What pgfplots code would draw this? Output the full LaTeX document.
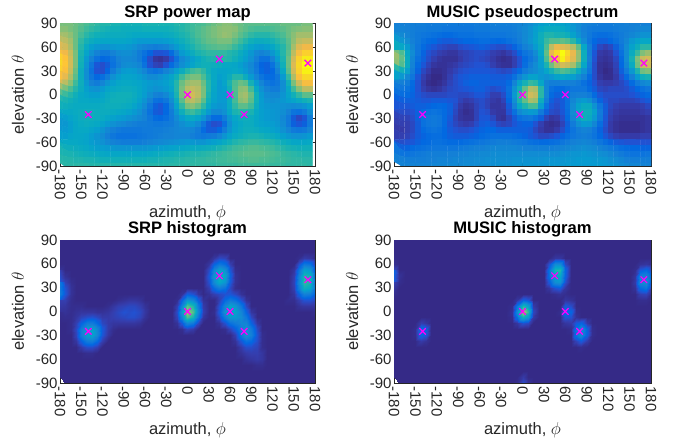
\documentclass[border=0pt]{standalone}
\usepackage{fontspec}
\setmainfont{Liberation Sans}
\usepackage{pgfplots}
\usepackage{pgfplotstable}
\pgfplotsset{compat=1.18}
\definecolor{ink}{rgb}{0.15,0.15,0.15}
\definecolor{mag}{rgb}{1,0,1}
\pgfplotsset{
 colormap={parula}{rgb=(.2081,.1663,.5292) rgb=(.2081,.2386,.6771) rgb=(.1253,.3242,.8303) rgb=(.0060,.4086,.8828) rgb=(.0498,.4586,.8641) rgb=(.0779,.5040,.8384) rgb=(.0641,.5570,.8240) rgb=(.0265,.6137,.8135) rgb=(.0228,.6535,.7768) rgb=(.0590,.6838,.7254) rgb=(.1453,.7098,.6646) rgb=(.2586,.7317,.5954) rgb=(.3953,.7459,.5244) rgb=(.5300,.7491,.4661) rgb=(.6473,.7456,.4188) rgb=(.7525,.7384,.3768) rgb=(.8507,.7299,.3360) rgb=(.9450,.7261,.2886) rgb=(.9990,.7653,.2164) rgb=(.9789,.8271,.1633) rgb=(.9589,.8949,.1132) rgb=(.9763,.9831,.0538)},
 panel/.style={
  scale only axis, width=#1, anchor=south west,
  xmin=-180, xmax=180, ymin=-90, ymax=90,
  xtick={-180,-150,...,180}, ytick={-90,-60,...,90},
  xticklabels={-180,-150,-120,-90,-60,-30,0,30,60,90,120,150,180},
  yticklabels={-90,-60,-30,0,30,60,90},
  tick align=inside, tick pos=both, major tick length=2.5pt,
  axis line style={ink,line width=0.5pt}, every tick/.style={ink,line width=0.5pt},
  tick label style={font=\fontsize{15}{15}\selectfont,text=ink},
  xticklabel style={rotate=-90,anchor=west,yshift=0pt},
  yticklabel style={xshift=1pt},
  label style={font=\fontsize{16.5}{16.5}\selectfont,text=ink},
  xlabel={azimuth, $\phi$}, ylabel={elevation $\theta$},
  xlabel style={at={(axis description cs:0.5,0)},anchor=base,yshift=-51.5pt},
  ylabel style={at={(axis description cs:0,0.5)},anchor=base,yshift=36pt},
  title style={font=\bfseries\fontsize{16.6}{16.6}\selectfont,text=black,yshift=-6.5pt},
  point meta min=5, point meta max=100,
  colormap name=parula,
 },
 xmarks/.style={only marks,mark=x,mark size=4.6pt,color=mag,mark options={line width=1.2pt}},
}
\newcommand\truth{\addplot[xmarks] coordinates {(-140,-25) (0,0) (45,45) (60,0) (80,-25) (170,40)};}
\pgfplotstableread{
c
62
62
62
60
58
56
54
52
50
50
48
48
47
47
47
47
48
48
48
48
48
48
50
50
52
54
55
56
58
60
62
64
64
62
60
58
58
58
58
58
58
58
60
60
60
60
62
62

64
64
62
60
57
54
52
50
48
47
46
46
45
45
45
45
46
46
46
46
46
47
48
50
52
54
56
58
60
62
64
65
65
64
60
58
56
55
55
55
56
57
58
60
62
63
64
64

68
68
65
60
55
51
48
46
45
44
44
44
44
43
42
42
42
42
42
42
43
44
46
48
50
53
56
58
60
62
64
66
65
62
58
55
52
50
50
50
52
54
56
60
64
68
68
68

72
72
68
60
52
47
44
42
41
41
41
41
41
40
38
36
36
36
36
36
37
39
42
45
48
51
54
57
59
60
62
62
62
58
54
50
46
44
44
45
47
50
53
58
65
72
74
74

78
76
70
60
50
43
38
35
33
33
35
36
36
35
33
30
28
27
26
27
28
32
36
41
45
48
52
54
56
57
58
58
57
53
49
44
40
37
36
38
41
46
50
57
68
78
82
82

84
82
74
62
48
40
33
28
25
25
28
31
32
32
30
26
22
18
14
14
15
20
28
36
40
44
48
50
52
52
52
52
50
48
44
40
35
30
28
30
35
42
50
58
72
84
90
90

90
86
76
62
47
36
28
22
19
20
23
28
30
30
29
26
20
13
8
7
9
14
22
30
34
38
42
46
48
49
50
50
49
46
42
38
33
27
22
22
28
37
48
60
76
90
97
97

92
87
76
62
46
34
24
15
13
16
22
27
31
32
31
29
22
14
11
10
14
20
26
32
36
40
44
46
46
45
44
42
42
41
38
34
30
24
18
17
22
32
46
60
78
92
100
100

90
85
74
60
44
32
22
14
13
18
26
32
36
37
36
33
29
24
22
24
28
32
38
44
50
54
56
52
46
42
40
40
41
42
40
36
31
25
19
17
19
28
42
58
76
90
98
98

85
80
70
58
44
32
24
19
21
26
33
37
40
40
39
37
34
31
31
33
36
40
46
54
60
62
62
56
48
42
38
40
44
50
50
44
36
29
23
20
20
24
36
52
70
85
92
92

78
72
64
54
45
35
28
26
29
34
38
41
42
42
41
40
38
36
35
36
38
42
50
60
66
68
68
60
50
42
36
40
48
56
60
58
47
36
29
24
22
24
32
46
62
75
84
84

68
62
56
50
44
38
34
33
36
40
42
43
44
44
43
41
38
35
33
34
36
40
50
62
71
73
71
62
50
41
36
38
46
57
64
65
55
42
33
28
26
26
32
42
54
64
72
72

58
54
50
46
42
40
38
38
40
43
45
46
46
46
44
41
37
32
28
27
30
36
48
62
73
76
72
62
48
40
36
36
44
56
66
68
60
46
36
31
30
30
34
40
46
52
58
58

50
48
46
44
42
42
41
41
42
44
46
46
46
45
43
39
34
28
22
21
24
32
44
58
70
72
68
58
46
39
36
36
44
55
64
66
58
46
37
33
32
33
35
38
40
43
46
48

46
45
44
43
43
43
43
43
44
45
45
45
44
43
40
36
31
24
17
15
19
28
40
52
62
64
60
52
42
36
34
35
43
52
58
58
54
44
37
35
34
34
33
32
31
32
34
38

42
42
42
43
44
45
45
44
44
44
43
42
41
39
36
33
28
22
16
15
19
26
35
45
52
54
50
44
36
30
30
33
41
48
50
50
48
42
38
36
35
34
32
28
23
22
25
32

38
38
40
42
44
45
45
44
43
41
39
37
36
34
32
30
28
24
20
19
21
25
31
37
42
43
40
34
26
20
20
26
35
41
44
45
44
41
38
36
35
34
30
25
16
12
15
26

35
35
38
41
43
44
43
42
39
36
33
31
30
28
27
26
26
25
24
24
25
26
29
32
35
35
31
24
16
13
14
21
32
39
42
44
44
41
39
38
37
35
31
25
17
15
17
25

35
36
38
41
42
42
40
38
34
30
27
25
24
24
24
24
25
25
26
26
27
28
29
30
30
29
26
20
16
16
19
26
34
40
43
45
45
44
42
41
39
37
33
29
25
24
25
29

38
38
40
41
41
40
37
34
31
27
24
22
22
22
22
23
24
25
26
27
28
28
29
29
29
27
25
24
25
26
29
34
39
43
45
47
48
48
47
45
44
42
38
35
33
33
34
36

41
42
42
42
41
40
37
35
33
30
28
27
26
26
26
26
27
28
29
30
31
32
33
34
35
35
34
34
36
38
40
43
46
49
51
52
53
53
52
51
50
48
45
43
41
41
41
42

45
45
45
44
43
42
40
38
37
36
35
34
34
34
34
34
34
35
36
37
38
39
40
41
42
43
43
44
45
46
48
50
52
54
55
56
57
57
56
55
54
52
50
48
47
46
46
46

48
48
48
47
46
45
44
43
42
41
41
41
41
41
41
41
41
42
43
44
45
46
47
47
48
49
49
50
51
52
53
54
55
56
57
58
58
58
58
57
56
55
53
52
51
50
49
49

50
50
50
49
49
48
48
47
46
46
46
46
46
46
46
46
46
47
47
48
49
49
50
50
51
51
52
52
53
53
54
54
55
55
56
56
57
57
56
56
55
54
54
53
52
52
51
51

51
51
51
51
51
51
50
50
50
50
50
50
50
50
50
50
50
50
50
50
50
51
51
51
51
52
52
52
52
52
53
53
53
53
54
54
54
54
54
54
53
53
53
52
52
52
52
51
}\srpmap
\pgfplotstableread{
c
26
26
26
25
25
25
24
24
24
24
23
23
23
23
23
24
24
24
25
25
25
25
26
27
28
30
33
36
38
38
38
38
36
33
30
27
26
25
24
24
24
25
25
26
26
26
26
26

27
27
26
25
24
24
23
23
23
22
22
22
22
22
22
23
23
23
24
24
24
24
25
27
29
32
36
40
42
42
42
41
38
34
30
26
24
23
23
23
23
24
25
25
26
27
28
28

30
29
27
25
23
22
21
20
19
18
18
19
20
20
20
21
21
21
22
22
22
23
24
26
29
32
37
44
48
48
46
46
44
38
32
27
23
20
19
19
20
22
24
26
28
30
32
32

34
33
30
26
23
20
18
17
15
14
14
15
16
17
17
18
19
19
18
17
18
20
22
25
29
33
38
44
52
56
56
58
56
50
40
30
22
17
15
15
17
20
24
28
34
38
40
40

42
40
35
28
22
18
15
13
11
10
9
9
11
12
13
14
15
14
12
11
11
13
16
21
26
29
35
42
55
72
80
78
76
70
58
40
25
15
10
8
10
15
22
30
38
44
50
50

60
55
40
30
22
16
12
10
8
7
6
6
8
9
10
11
11
10
8
7
6
8
11
16
21
24
30
40
58
80
92
100
92
80
65
44
25
13
7
6
7
12
20
30
42
52
62
66

66
58
42
28
20
15
11
8
6
5
5
5
7
9
10
11
10
9
7
5
4
5
8
12
18
22
27
37
55
72
84
98
88
78
65
44
26
12
6
5
6
10
18
30
46
62
74
76

64
56
42
27
18
13
9
6
5
5
6
7
9
10
11
12
12
11
8
6
5
5
8
12
19
25
30
36
47
60
70
76
74
68
56
40
24
11
5
4
5
9
17
28
42
60
73
75

50
45
36
25
16
10
7
4
4
5
7
9
11
12
13
13
13
13
12
11
10
11
14
18
24
28
30
34
39
46
52
56
54
50
42
32
22
11
5
3
4
8
15
24
34
48
60
62

38
34
28
22
13
8
5
3
3
5
8
11
13
14
15
15
15
15
14
14
14
15
20
27
33
38
38
34
32
34
38
40
38
36
31
26
18
11
6
4
4
7
12
18
26
35
44
46

28
26
23
18
12
7
4
3
4
6
9
11
13
15
16
16
15
15
15
15
15
18
27
38
46
52
50
40
28
25
25
26
26
26
24
20
16
12
8
7
7
8
10
13
18
24
28
30

24
22
20
17
12
8
6
5
6
8
10
11
12
13
14
15
15
13
11
12
14
20
32
45
58
70
68
50
28
20
18
18
20
22
22
22
18
14
10
9
10
10
10
11
14
17
20
22

20
19
18
16
13
11
10
10
10
10
11
11
10
10
11
13
13
11
8
8
11
19
34
50
62
75
72
50
28
18
15
16
20
25
26
26
24
18
13
11
11
11
11
11
12
14
16
18

16
15
15
15
14
13
13
14
14
14
13
12
9
7
8
10
11
9
7
6
9
17
31
48
58
68
66
44
25
15
12
14
20
28
33
35
32
24
16
12
10
10
9
9
9
10
12
14

13
13
13
14
15
15
16
17
18
17
15
11
7
5
6
9
11
9
6
6
7
14
27
40
48
54
54
36
20
13
11
14
20
30
38
42
42
32
22
14
10
8
7
7
7
7
8
10

11
11
11
12
15
18
20
21
20
18
15
10
6
4
5
9
12
11
7
6
6
12
20
29
33
35
34
24
15
11
10
13
19
30
40
44
44
37
24
14
9
7
6
6
6
6
7
8

9
9
9
11
15
20
22
23
22
18
14
9
6
5
5
9
13
13
10
6
5
9
14
20
22
23
20
15
9
6
7
11
18
28
38
44
42
34
23
13
8
6
5
5
5
5
5
6

8
8
8
10
14
20
22
23
22
18
13
10
8
7
8
11
14
15
13
10
9
10
13
15
16
16
12
8
5
4
5
9
15
24
31
35
34
28
19
12
7
5
4
4
4
4
5
6

7
7
8
10
14
18
20
21
20
17
14
12
11
11
12
14
16
17
17
15
15
15
15
15
15
14
10
7
5
5
7
11
16
21
25
27
26
22
16
11
7
5
4
4
4
4
5
6

8
8
9
11
14
16
18
19
19
17
15
14
14
14
15
16
18
19
20
20
20
20
19
18
16
14
12
10
10
11
13
16
19
22
24
25
24
21
17
13
10
8
7
7
7
7
8
8

11
11
12
13
15
17
18
20
20
19
18
18
18
19
20
21
22
23
24
25
25
25
24
23
22
20
19
18
18
19
20
22
24
26
27
28
27
25
22
19
16
14
13
12
12
12
12
12

15
15
16
18
19
20
21
22
22
22
22
22
23
24
25
26
26
27
28
28
28
28
28
27
26
26
25
25
25
25
26
27
28
29
30
31
30
29
27
25
23
21
19
18
17
17
16
16

22
21
21
22
23
24
25
25
25
25
26
26
27
27
28
28
29
29
30
30
30
30
30
30
30
30
30
30
30
30
30
31
32
33
33
34
33
32
31
30
28
26
24
22
21
21
21
22

26
26
25
25
25
25
26
26
27
27
27
28
28
29
29
30
30
31
31
31
31
31
32
32
32
32
32
32
33
33
33
33
34
34
35
35
35
34
34
33
31
30
28
26
25
25
25
25

27
27
27
27
27
27
27
28
28
28
29
29
29
30
30
30
31
31
31
32
32
32
33
33
33
33
33
33
33
34
34
34
35
35
35
35
35
35
35
34
33
32
30
29
28
28
27
27
}\musicmap
\pgfplotstableread{
c
0
0
0
0
0
0
0
0
0
0
0
0
0
0
0
0
0
0
0
0
0
0
0
0
0
0
0
0
0
0
0
0
0
0
0
0
0
0
0
0
0
0
0
0
0
0
0
0
0

0
0
0
0
0
0
0
0
0
0
0
0
0
0
0
0
0
0
0
0
0
0
0
0
0
0
0
0
0
0
0
0
0
0
0
0
0
0
0
0
0
0
0
0
0
0
0
0
0

0
0
0
0
0
0
0
0
0
0
0
0
0
0
0
0
0
0
0
0
0
0
0
0
0
0
0
0
0
1
2
2
1
0
0
0
0
0
0
0
0
0
0
0
0
1
1
1
0

2
1
1
0
0
0
0
0
0
0
0
0
0
0
0
0
0
0
0
0
0
0
0
0
0
0
0
0
2
6
10
9
3
1
0
0
0
0
0
0
0
0
0
0
1
4
7
6
3

3
2
1
1
0
0
0
0
0
0
0
0
0
0
0
0
0
0
0
0
0
0
0
0
0
0
0
0
6
16
22
18
8
3
1
0
0
0
0
0
0
0
0
1
3
12
22
20
8

5
3
2
1
1
0
0
0
0
0
0
0
0
0
0
0
0
0
0
0
0
0
0
0
0
0
0
0
11
28
38
31
13
4
1
0
0
0
0
0
0
0
1
1
6
22
38
34
12

8
5
3
2
1
1
0
0
0
0
0
0
0
0
0
0
0
0
0
0
0
0
0
0
1
1
1
2
14
34
46
38
16
5
1
0
0
0
0
0
0
1
1
2
8
27
48
46
16

13
8
4
2
1
1
0
0
0
0
0
0
0
0
0
0
0
0
0
0
0
0
0
0
0
0
0
0
12
30
41
33
14
5
1
0
0
0
0
0
1
1
2
3
9
30
52
48
20

22
12
5
2
1
0
0
0
0
0
0
0
0
0
0
0
0
0
0
0
0
0
0
0
0
1
1
2
8
18
24
20
10
4
1
0
0
0
0
0
1
1
2
3
8
26
44
40
22

24
13
5
2
1
0
0
0
0
0
1
1
2
3
3
3
2
1
0
0
0
0
1
5
15
12
6
3
5
8
10
12
13
10
5
2
1
0
0
0
1
1
2
3
6
16
26
24
16

14
8
4
3
2
1
1
1
1
2
3
4
5
6
6
5
3
2
1
0
0
1
4
17
33
28
15
5
2
3
8
18
23
20
12
5
2
1
0
0
1
2
3
4
4
8
12
12
10

8
6
4
4
4
3
2
2
3
4
6
8
9
10
10
8
5
3
1
0
0
2
8
28
58
48
24
7
2
3
12
28
38
34
22
10
3
1
0
0
1
2
3
3
3
5
6
6
6

5
5
4
5
6
6
6
5
5
6
8
10
12
11
12
10
6
3
1
0
0
3
11
36
68
56
28
8
2
4
14
32
42
38
28
16
6
2
1
0
1
1
1
2
2
3
3
3
4

4
4
4
6
9
11
12
10
7
7
8
9
10
11
11
9
5
3
1
0
0
2
9
28
56
46
22
6
2
3
10
24
34
34
30
22
10
3
1
0
0
0
1
1
1
1
1
1
2

3
3
4
8
16
24
24
18
10
7
6
6
6
6
6
5
3
1
0
0
0
1
5
14
28
23
10
3
1
2
5
12
20
24
28
28
16
6
2
0
0
0
0
0
0
0
1
1
1

2
2
4
10
24
36
38
28
14
7
4
3
3
3
2
2
1
0
0
0
0
0
1
4
9
7
3
1
0
1
2
4
9
15
26
34
24
10
3
1
0
0
0
0
0
0
0
0
0

1
1
3
9
24
36
38
28
13
6
3
1
1
0
0
0
0
0
0
0
0
0
0
0
1
1
0
0
0
0
0
1
3
8
22
32
26
12
4
1
0
0
0
0
0
0
0
0
0

0
1
2
6
15
24
25
18
8
3
1
0
0
0
0
0
0
0
0
0
0
0
0
0
0
0
0
0
0
0
0
0
2
5
13
20
18
11
4
1
0
0
0
0
0
0
0
0
0

0
0
1
3
7
11
11
8
3
1
0
0
0
0
0
0
0
0
0
0
0
0
0
0
0
0
0
0
0
0
0
0
1
3
7
11
11
9
4
1
0
0
0
0
0
0
0
0
0

0
0
0
0
2
4
4
3
1
0
0
0
0
0
0
0
0
0
0
0
0
0
0
0
0
0
0
0
0
0
0
0
0
2
5
7
8
8
6
2
0
0
0
0
0
0
0
0
0

0
0
0
0
1
1
1
1
0
0
0
0
0
0
0
0
0
0
0
0
0
0
0
0
0
0
0
0
0
0
0
0
0
1
3
5
6
7
6
3
1
0
0
0
0
0
0
0
0

0
0
0
0
0
0
0
0
0
0
0
0
0
0
0
0
0
0
0
0
0
0
0
0
0
0
0
0
0
0
0
0
0
0
1
2
3
4
4
2
0
0
0
0
0
0
0
0
0

0
0
0
0
0
0
0
0
0
0
0
0
0
0
0
0
0
0
0
0
0
0
0
0
0
0
0
0
0
0
0
0
0
0
0
1
1
1
1
0
0
0
0
0
0
0
0
0
0

0
0
0
0
0
0
0
0
0
0
0
0
0
0
0
0
0
0
0
0
0
0
0
0
0
0
0
0
0
0
0
0
0
0
0
0
0
0
0
0
0
0
0
0
0
0
0
0
0

0
0
0
0
0
0
0
0
0
0
0
0
0
0
0
0
0
0
0
0
0
0
0
0
0
0
0
0
0
0
0
0
0
0
0
0
0
0
0
0
0
0
0
0
0
0
0
0
0
}\srphist
\pgfplotstableread{
c
0
0
0
0
0
0
0
0
0
0
0
0
0
0
0
0
0
0
0
0
0
0
0
0
0
0
0
0
0
0
0
0
0
0
0
0
0
0
0
0
0
0
0
0
0
0
0
0
0

0
0
0
0
0
0
0
0
0
0
0
0
0
0
0
0
0
0
0
0
0
0
0
0
0
0
0
0
0
0
0
0
0
0
0
0
0
0
0
0
0
0
0
0
0
0
0
0
0

0
0
0
0
0
0
0
0
0
0
0
0
0
0
0
0
0
0
0
0
0
0
0
0
0
0
0
0
0
0
0
0
0
0
0
0
0
0
0
0
0
0
0
0
0
0
0
0
0

0
0
0
0
0
0
0
0
0
0
0
0
0
0
0
0
0
0
0
0
0
0
0
0
0
0
0
0
0
1
4
4
0
0
0
0
0
0
0
0
0
0
0
0
0
0
0
0
0

2
0
0
0
0
0
0
0
0
0
0
0
0
0
0
0
0
0
0
0
0
0
0
0
0
0
0
0
0
10
28
28
8
0
0
0
0
0
0
0
0
0
0
0
0
0
3
4
2

8
1
0
0
0
0
0
0
0
0
0
0
0
0
0
0
0
0
0
0
0
0
0
0
0
0
0
0
0
18
46
48
15
1
0
0
0
0
0
0
0
0
0
0
0
2
12
16
8

14
3
0
0
0
0
0
0
0
0
0
0
0
0
0
0
0
0
0
0
0
0
0
0
0
0
0
0
0
18
38
38
14
0
0
0
0
0
0
0
0
0
0
0
0
4
24
26
14

12
2
0
0
0
0
0
0
0
0
0
0
0
0
0
0
0
0
0
0
0
0
0
0
0
0
0
0
0
12
30
32
10
0
0
0
0
0
0
0
0
0
0
0
0
5
27
30
12

6
1
0
0
0
0
0
0
0
0
0
0
0
0
0
0
0
0
0
0
0
0
0
0
0
0
0
0
0
4
10
12
4
0
0
0
0
0
0
0
0
0
0
0
0
3
16
20
6

2
0
0
0
0
0
0
0
0
0
0
0
0
0
0
0
0
0
0
0
0
0
0
0
0
0
0
0
0
0
2
3
2
0
0
0
0
0
0
0
0
0
0
0
0
0
6
7
2

0
0
0
0
0
0
0
0
0
0
0
0
0
0
0
0
0
0
0
0
0
0
0
4
14
11
1
0
0
0
0
1
4
3
0
0
0
0
0
0
0
0
0
0
0
0
2
2
0

0
0
0
0
0
0
0
0
0
0
0
0
0
0
0
0
0
0
0
0
0
0
2
20
48
36
5
0
0
0
0
0
12
9
0
0
0
0
0
0
0
0
0
0
0
0
0
0
0

0
0
0
0
0
0
0
0
0
0
0
0
0
0
0
0
0
0
0
0
0
0
3
28
70
50
8
0
0
0
0
2
18
15
2
0
0
0
0
0
0
0
0
0
0
0
0
0
0

0
0
0
0
0
0
0
0
0
0
0
0
0
0
0
0
0
0
0
0
0
0
2
18
44
34
5
0
0
0
0
0
11
10
3
0
0
0
0
0
0
0
0
0
0
0
0
0
0

0
0
0
0
0
6
4
0
0
0
0
0
0
0
0
0
0
0
0
0
0
0
0
4
10
8
1
0
0
0
0
0
4
5
12
15
5
0
0
0
0
0
0
0
0
0
0
0
0

0
0
0
0
2
18
13
1
0
0
0
0
0
0
0
0
0
0
0
0
0
0
0
0
0
0
0
0
0
0
0
0
0
2
20
30
14
2
0
0
0
0
0
0
0
0
0
0
0

0
0
0
0
2
15
11
0
0
0
0
0
0
0
0
0
0
0
0
0
0
0
0
0
0
0
0
0
0
0
0
0
0
0
19
28
13
2
0
0
0
0
0
0
0
0
0
0
0

0
0
0
0
0
5
3
0
0
0
0
0
0
0
0
0
0
0
0
0
0
0
0
0
0
0
0
0
0
0
0
0
0
0
7
12
5
0
0
0
0
0
0
0
0
0
0
0
0

0
0
0
0
0
1
0
0
0
0
0
0
0
0
0
0
0
0
0
0
0
0
0
0
0
0
0
0
0
0
0
0
0
0
0
2
0
0
0
0
0
0
0
0
0
0
0
0
0

0
0
0
0
0
0
0
0
0
0
0
0
0
0
0
0
0
0
0
0
0
0
0
0
0
0
0
0
0
0
0
0
0
0
0
0
0
0
0
0
0
0
0
0
0
0
0
0
0

0
0
0
0
0
0
0
0
0
0
0
0
0
0
0
0
0
0
0
0
0
0
0
0
0
0
0
0
0
0
0
0
0
0
0
0
0
0
0
0
0
0
0
0
0
0
0
0
0

0
0
0
0
0
0
0
0
0
0
0
0
0
0
0
0
0
0
0
0
0
0
0
0
0
0
0
0
0
0
0
0
0
0
0
0
0
0
0
0
0
0
0
0
0
0
0
0
0

0
0
0
0
0
0
0
0
0
0
0
0
0
0
0
0
0
0
0
0
0
0
0
0
0
0
0
0
0
0
0
0
0
0
0
0
0
0
0
0
0
0
0
0
0
0
0
0
0

0
0
0
0
0
0
0
0
0
0
0
0
0
0
0
0
0
0
0
0
0
0
0
1
5
1
0
0
0
0
0
0
0
0
0
0
0
0
0
0
0
0
0
0
0
0
0
0
0

0
0
0
0
0
0
0
0
0
0
0
0
0
0
0
0
0
0
0
0
0
0
0
2
9
3
0
0
0
0
0
0
0
0
0
0
0
0
0
0
0
0
0
0
0
0
0
0
0
}\musichist
\begin{document}
\begin{tikzpicture}
\useasboundingbox (0pt,0pt) rectangle (678pt,443pt);
\begin{axis}[panel=255pt,height=142.5pt,at={(60pt,277pt)},title={SRP power map}]
\addplot[matrix plot*,mesh/cols=48,point meta=\thisrow{c}] table[x index=0,y index=0,x expr={-180+7.5*mod(\coordindex,48)},y expr={90-7.5*floor(\coordindex/48)}] {\srpmap};
\truth
\end{axis}
\begin{axis}[panel=257pt,height=142.5pt,at={(394pt,277pt)},title={MUSIC pseudospectrum},point meta min=3]
\addplot[matrix plot*,mesh/cols=48,point meta=\thisrow{c}] table[x index=0,y index=0,x expr={-176.25+7.5*mod(\coordindex,48)},y expr={90-7.5*floor(\coordindex/48)}] {\musicmap};
\truth
\end{axis}
\begin{axis}[panel=255pt,height=143pt,at={(60pt,60pt)},title={SRP histogram},point meta min=3]
\addplot[surf,shader=interp,mesh/cols=49,point meta=\thisrow{c}] table[x index=0,y index=0,x expr={-180+7.5*mod(\coordindex,49)},y expr={90-7.5*floor(\coordindex/49)}] {\srphist};
\truth
\end{axis}
\begin{axis}[panel=257pt,height=143pt,at={(394pt,60pt)},title={MUSIC histogram},point meta min=1]
\addplot[surf,shader=interp,mesh/cols=49,point meta=\thisrow{c}] table[x index=0,y index=0,x expr={-180+7.5*mod(\coordindex,49)},y expr={90-7.5*floor(\coordindex/49)}] {\musichist};
\truth
\end{axis}
\end{tikzpicture}
\end{document}
